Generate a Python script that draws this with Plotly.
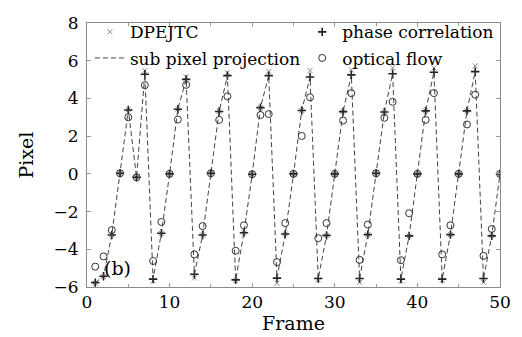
import plotly.graph_objects as go

frames = list(range(1, 51))

dpejtc = [-5.80, -5.45, -3.24, 0.03, 3.40, -0.18, 5.48, -5.68, -3.15, 0.00,
          3.43, 5.15, -5.52, -3.24, 0.03, 3.32, 5.37, -5.66, -3.12, -0.02,
          3.51, 5.43, -5.80, -3.19, 0.00, 3.36, 5.48, -5.62, -3.26, 0.00,
          3.31, 5.51, -5.75, -3.22, 0.03, 3.28, 5.62, -5.68, -3.29, 0.00,
          3.35, 5.62, -5.64, -3.22, 0.00, 3.34, 5.73, -5.75, -3.29, 0.00]

phase_corr = [-5.77, -5.43, -3.24, 0.03, 3.39, -0.18, 5.28, -5.58, -3.15, 0.00,
              3.43, 5.01, -5.32, -3.24, 0.03, 3.31, 5.21, -5.62, -3.12, -0.02,
              3.51, 5.21, -5.53, -3.19, 0.00, 3.36, 5.14, -5.55, -3.26, 0.00,
              3.30, 5.25, -5.55, -3.22, 0.03, 3.28, 5.31, -5.58, -3.29, 0.00,
              3.34, 5.39, -5.58, -3.22, 0.00, 3.34, 5.42, -5.55, -3.29, 0.00]

sub_pixel = [-5.77, -5.43, -3.24, 0.03, 3.39, -0.18, 5.28, -5.58, -3.15, 0.00,
             3.43, 5.01, -5.32, -3.24, 0.03, 3.31, 5.21, -5.62, -3.12, -0.02,
             3.51, 5.21, -5.53, -3.19, 0.00, 3.36, 5.14, -5.55, -3.26, 0.00,
             3.30, 5.25, -5.55, -3.22, 0.03, 3.28, 5.31, -5.58, -3.29, 0.00,
             3.34, 5.39, -5.58, -3.22, 0.00, 3.34, 5.42, -5.55, -3.29, 0.00]

optical_flow = [-4.92, -4.38, -2.98, 0.03, 3.00, -0.18, 4.70, -4.62, -2.55, 0.00,
                2.88, 4.72, -4.27, -2.77, 0.03, 2.86, 4.11, -4.08, -2.73, -0.02,
                3.12, 3.17, -4.68, -2.61, 0.00, 2.01, 4.06, -3.41, -2.61, 0.00,
                2.83, 4.28, -4.56, -2.69, 0.03, 2.97, 3.82, -4.58, -2.09, 0.00,
                2.86, 4.28, -4.27, -2.73, 0.00, 2.62, 4.20, -4.35, -2.92, 0.00]

x_ticks = [0, 10, 20, 30, 40, 50]
y_ticks = [-6, -4, -2, 0, 2, 4, 6, 8]

FONT = "DejaVu Serif"

fig = go.Figure()
fig.add_trace(go.Scatter(
    x=frames, y=dpejtc, mode="markers", name="DPEJTC", legend="legend",
    legendgroup="a",
    marker=dict(symbol="x-thin", size=5, color="#888888",
                line=dict(width=1, color="#888888"))))
fig.add_trace(go.Scatter(
    x=frames, y=phase_corr, mode="markers", name="phase correlation", legend="legend2",
    legendgroup="b",
    marker=dict(symbol="cross-thin", size=6, color="#222222",
                line=dict(width=1.6, color="#222222"))))
fig.add_trace(go.Scatter(
    x=frames, y=sub_pixel, mode="lines", name="sub pixel projection", legend="legend",
    legendgroup="c",
    line=dict(color="#444444", width=1, dash="5px,3px")))
fig.add_trace(go.Scatter(
    x=frames, y=optical_flow, mode="markers", name="optical flow", legend="legend2",
    legendgroup="d",
    marker=dict(symbol="circle-open", size=7, color="#333333",
                line=dict(width=1, color="#333333"))))

axis_common = dict(
    showgrid=False, zeroline=False, showline=True, linecolor="#8a8a8a",
    linewidth=1, mirror="ticks", ticks="inside", ticklen=4, tickcolor="#9a9a9a",
    tickfont=dict(family=FONT, size=17, color="black"), automargin=False,
)

legend_common = dict(
    orientation="v", yanchor="top", xanchor="left",
    bgcolor="rgba(0,0,0,0)", borderwidth=0,
    font=dict(family=FONT, size=17, color="black"),
    itemwidth=30, tracegroupgap=1,
)

fig.update_layout(
    width=514, height=329,
    margin=dict(l=78.5, r=22, t=6, b=50),
    paper_bgcolor="white", plot_bgcolor="white",
    font=dict(family=FONT, color="black"),
    showlegend=True,
    legend=dict(legend_common, x=0.007, y=1.033),
    legend2=dict(legend_common, x=0.521, y=1.033),
    xaxis=dict(axis_common, range=[0, 50], tickvals=x_ticks, ticklabelstandoff=0,
               minor=dict(dtick=5, ticks="inside", ticklen=3, tickcolor="#9a9a9a"),
               title=dict(text="Frame", font=dict(family=FONT, size=19), standoff=0)),
    yaxis=dict(axis_common, range=[-6, 8], tickvals=y_ticks, ticklabelstandoff=4,
               title=dict(text="Pixel", font=dict(family=FONT, size=19), standoff=14)),
    annotations=[dict(text="(b)", x=3.7, y=-5.0, xref="x", yref="y",
                      showarrow=False, font=dict(family=FONT, size=19, color="black"))],
)

fig.write_html("out.html")
